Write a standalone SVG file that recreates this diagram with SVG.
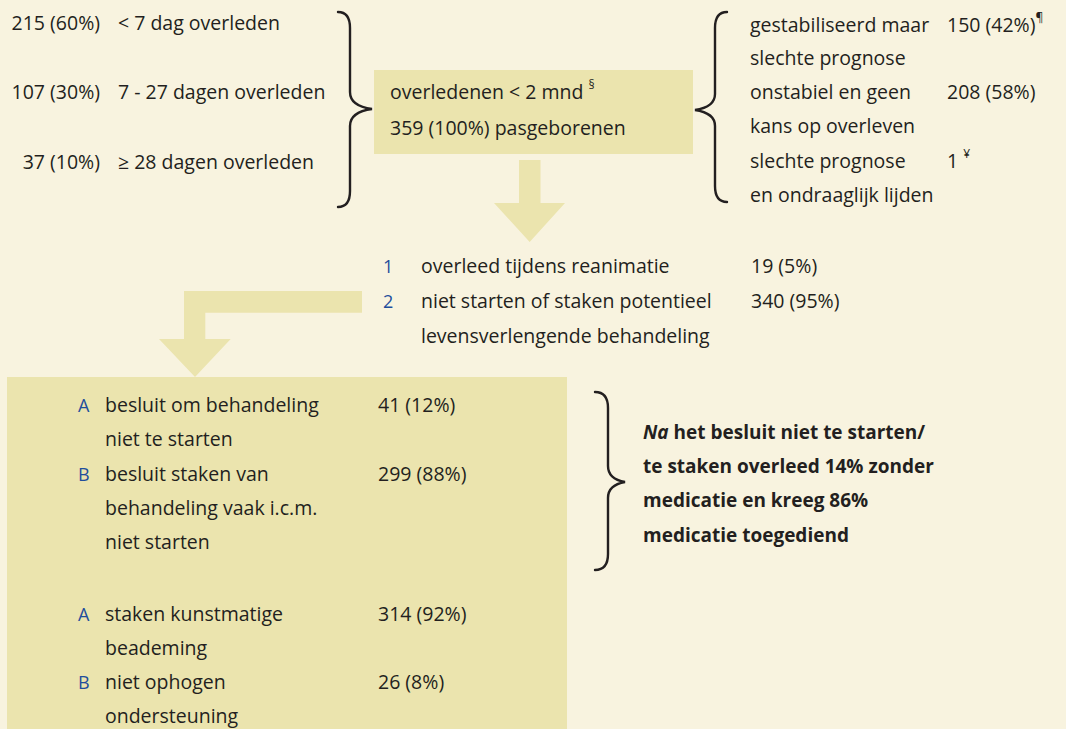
<svg xmlns="http://www.w3.org/2000/svg" width="1066" height="729" viewBox="0 0 1066 729">
<style>
text{font-family:"Open Sans","DejaVu Sans",sans-serif;font-size:19.5px;fill:#231f20}
.num{fill:#1f4e9c;font-size:18px}
.b{font-weight:bold;font-size:19px}
.sup{font-size:12px}
.box{fill:#ebe4ae}
.arrow{fill:#ebe4ae}
.brace{fill:none;stroke:#231f20;stroke-width:2.4;stroke-linecap:round}
</style>
<rect width="1066" height="729" fill="#f8f3df"/>
<g id="connectors">
<path class="arrow" d="M519 160 L540.5 160 L540.5 203 L565 203 L529.7 242 L494 203 L519 203 Z"/>
<path class="arrow" d="M362 291 L362 312.7 L205.3 312.7 L205.3 339 L230.7 339 L195 377 L159 339 L184 339 L184 291 Z"/>
<path class="brace" d="M338 12 Q350 12 350 28 L350 92 Q350 106 372 109 Q350 112 350 126 L350 191 Q350 207 338 207"/>
<path class="brace" d="M727 12 Q715 12 715 28 L715 94 Q715 107 695 110 Q715 113 715 126 L715 186 Q715 202 727 202"/>
<path class="brace" d="M595 392 Q608 392 608 408 L608 466 Q608 479 625 482 Q608 485 608 498 L608 554 Q608 570 595 570"/>
</g>
<g id="left-list">
<text x="100" y="30" text-anchor="end">215 (60%)</text>
<text x="118" y="30">&lt; 7 dag overleden</text>
<text x="100" y="99" text-anchor="end">107 (30%)</text>
<text x="118" y="99">7 - 27 dagen overleden</text>
<text x="100" y="169" text-anchor="end">37 (10%)</text>
<text x="118" y="169">≥ 28 dagen overleden</text>
</g>
<g id="center-box">
<rect class="box" x="374" y="70" width="319" height="84"/>
<text x="390" y="99">overledenen &lt; 2 mnd <tspan class="sup" dy="-10">§</tspan></text>
<text x="390" y="135">359 (100%) pasgeborenen</text>
</g>
<g id="right-list">
<text x="750" y="32">gestabiliseerd maar</text>
<text x="947" y="32">150 (42%)<tspan class="sup" dy="-10">¶</tspan></text>
<text x="750" y="65">slechte prognose</text>
<text x="750" y="99">onstabiel en geen</text>
<text x="947" y="99">208 (58%)</text>
<text x="750" y="133">kans op overleven</text>
<text x="750" y="168">slechte prognose</text>
<text x="947" y="168">1 <tspan class="sup" dy="-10">¥</tspan></text>
<text x="750" y="202">en ondraaglijk lijden</text>
</g>
<g id="middle-list">
<text class="num" x="383" y="273">1</text>
<text x="421" y="273">overleed tijdens reanimatie</text>
<text x="751" y="273">19 (5%)</text>
<text class="num" x="383" y="308">2</text>
<text x="421" y="308">niet starten of staken potentieel</text>
<text x="751" y="308">340 (95%)</text>
<text x="421" y="343">levensverlengende behandeling</text>
</g>
<g id="big-box">
<rect class="box" x="7" y="377" width="560" height="352"/>
<text class="num" x="78" y="412">A</text>
<text x="105" y="412">besluit om behandeling</text>
<text x="378" y="412">41 (12%)</text>
<text x="105" y="446">niet te starten</text>
<text class="num" x="78" y="481">B</text>
<text x="105" y="481">besluit staken van</text>
<text x="378" y="481">299 (88%)</text>
<text x="105" y="515">behandeling vaak i.c.m.</text>
<text x="105" y="549">niet starten</text>
<text class="num" x="78" y="621">A</text>
<text x="105" y="621">staken kunstmatige</text>
<text x="378" y="621">314 (92%)</text>
<text x="105" y="655">beademing</text>
<text class="num" x="78" y="689">B</text>
<text x="105" y="689">niet ophogen</text>
<text x="378" y="689">26 (8%)</text>
<text x="105" y="723">ondersteuning</text>
</g>
<g id="note">
<text class="b" x="643" y="439"><tspan font-style="italic">Na</tspan> het besluit niet te starten/</text>
<text class="b" x="643" y="473">te staken overleed 14% zonder</text>
<text class="b" x="643" y="507">medicatie en kreeg 86%</text>
<text class="b" x="643" y="542">medicatie toegediend</text>
</g>
</svg>
